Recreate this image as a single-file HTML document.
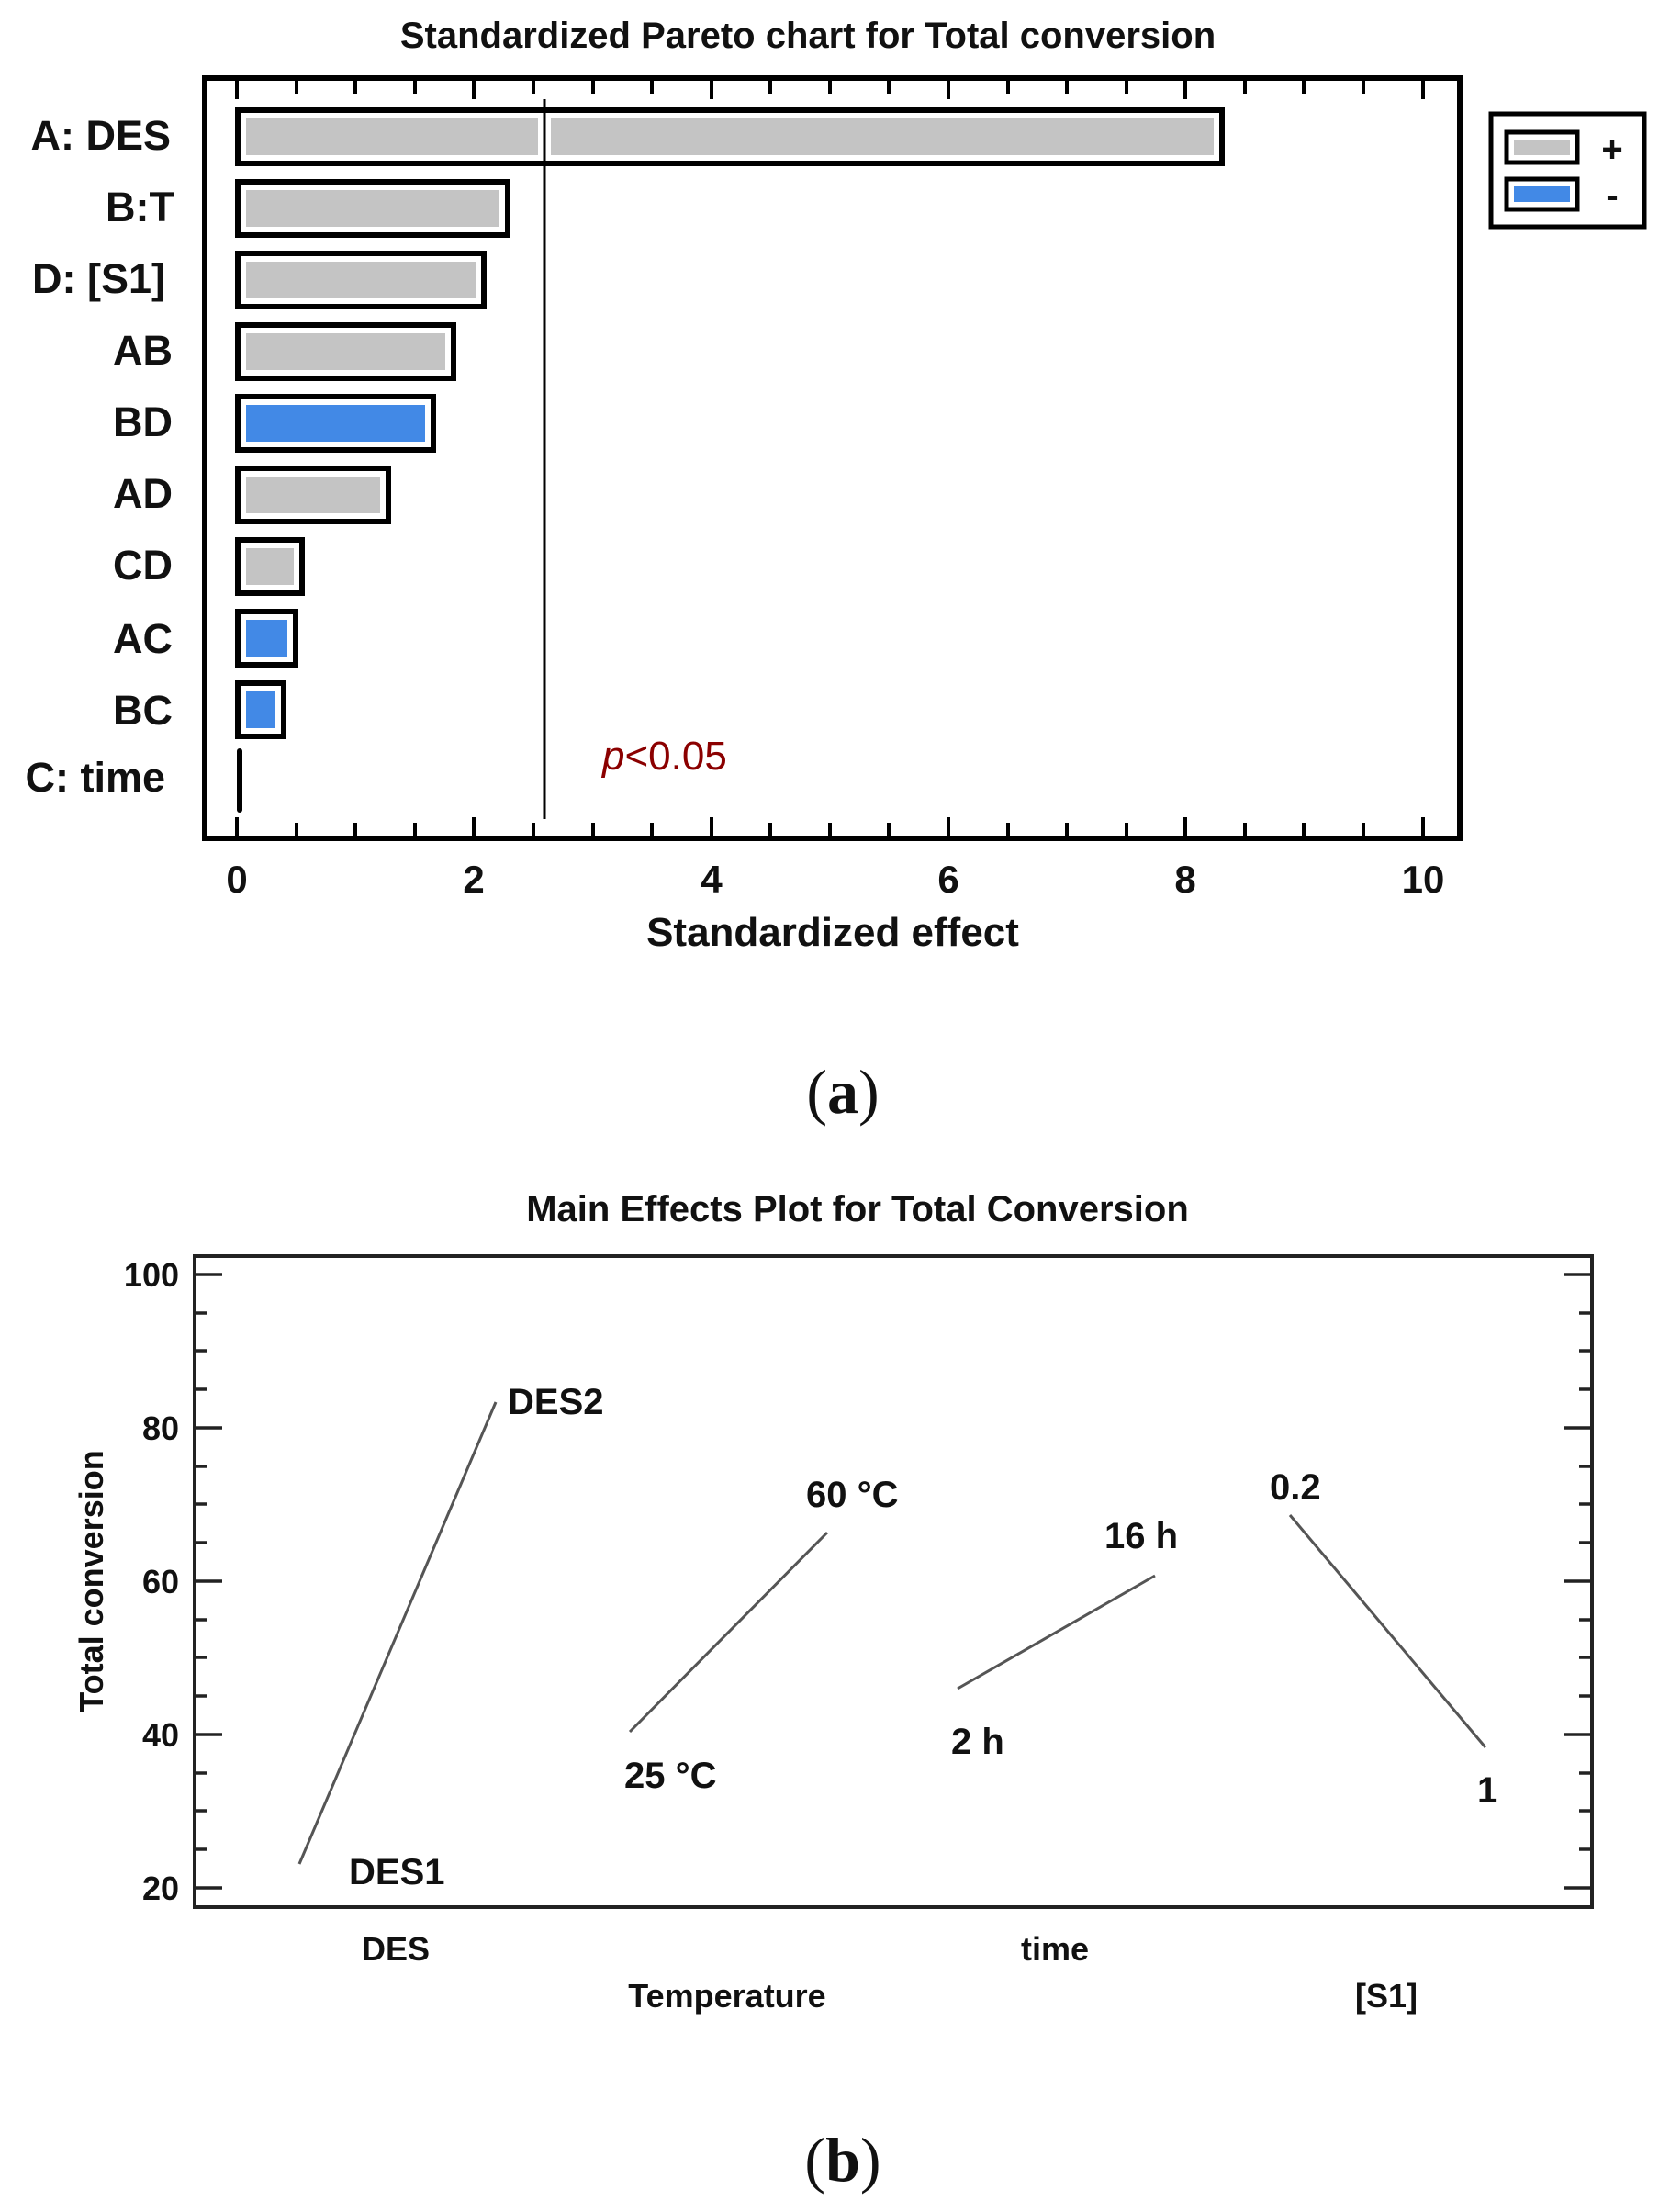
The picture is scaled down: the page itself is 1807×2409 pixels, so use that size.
<!DOCTYPE html>
<html><head><meta charset="utf-8"><style>
html,body{margin:0;padding:0;background:#fff}
svg{display:block}
text{font-family:"Liberation Sans",Arial,sans-serif;font-weight:bold;fill:#111}
</style></head><body>
<svg width="1807" height="2409" viewBox="0 0 1807 2409" xmlns="http://www.w3.org/2000/svg">
<text x="880" y="52" font-size="40" text-anchor="middle">Standardized Pareto chart for Total conversion</text>
<rect x="223" y="85" width="1367" height="828" fill="none" stroke="#000" stroke-width="6"/>
<g stroke="#000" stroke-width="4">
<line x1="258" y1="88" x2="258" y2="108"/><line x1="323" y1="88" x2="323" y2="102"/><line x1="387" y1="88" x2="387" y2="102"/><line x1="452" y1="88" x2="452" y2="102"/><line x1="516" y1="88" x2="516" y2="108"/><line x1="581" y1="88" x2="581" y2="102"/><line x1="646" y1="88" x2="646" y2="102"/><line x1="710" y1="88" x2="710" y2="102"/><line x1="775" y1="88" x2="775" y2="108"/><line x1="839" y1="88" x2="839" y2="102"/><line x1="904" y1="88" x2="904" y2="102"/><line x1="968" y1="88" x2="968" y2="102"/><line x1="1033" y1="88" x2="1033" y2="108"/><line x1="1098" y1="88" x2="1098" y2="102"/><line x1="1162" y1="88" x2="1162" y2="102"/><line x1="1227" y1="88" x2="1227" y2="102"/><line x1="1291" y1="88" x2="1291" y2="108"/><line x1="1356" y1="88" x2="1356" y2="102"/><line x1="1420" y1="88" x2="1420" y2="102"/><line x1="1485" y1="88" x2="1485" y2="102"/><line x1="1550" y1="88" x2="1550" y2="108"/>
<line x1="258" y1="910" x2="258" y2="890"/><line x1="323" y1="910" x2="323" y2="896"/><line x1="387" y1="910" x2="387" y2="896"/><line x1="452" y1="910" x2="452" y2="896"/><line x1="516" y1="910" x2="516" y2="890"/><line x1="581" y1="910" x2="581" y2="896"/><line x1="646" y1="910" x2="646" y2="896"/><line x1="710" y1="910" x2="710" y2="896"/><line x1="775" y1="910" x2="775" y2="890"/><line x1="839" y1="910" x2="839" y2="896"/><line x1="904" y1="910" x2="904" y2="896"/><line x1="968" y1="910" x2="968" y2="896"/><line x1="1033" y1="910" x2="1033" y2="890"/><line x1="1098" y1="910" x2="1098" y2="896"/><line x1="1162" y1="910" x2="1162" y2="896"/><line x1="1227" y1="910" x2="1227" y2="896"/><line x1="1291" y1="910" x2="1291" y2="890"/><line x1="1356" y1="910" x2="1356" y2="896"/><line x1="1420" y1="910" x2="1420" y2="896"/><line x1="1485" y1="910" x2="1485" y2="896"/><line x1="1550" y1="910" x2="1550" y2="890"/>
</g>
<g stroke="#000" stroke-width="6" fill="#fff">
<rect x="259" y="120" width="1072" height="58"/>
<rect x="259" y="198" width="294" height="58"/>
<rect x="259" y="276" width="268" height="58"/>
<rect x="259" y="354" width="235" height="58"/>
<rect x="259" y="432" width="213" height="58"/>
<rect x="259" y="510" width="164" height="58"/>
<rect x="259" y="588" width="70" height="58"/>
<rect x="259" y="666" width="63" height="58"/>
<rect x="259" y="744" width="50" height="58"/>
</g>
<g>
<rect x="268" y="129" width="1054" height="40" fill="#c4c4c4"/>
<rect x="586" y="126" width="14" height="46" fill="#fff"/>
<rect x="268" y="207" width="276" height="40" fill="#c4c4c4"/>
<rect x="268" y="285" width="250" height="40" fill="#c4c4c4"/>
<rect x="268" y="363" width="217" height="40" fill="#c4c4c4"/>
<rect x="268" y="441" width="195" height="40" fill="#4289e6"/>
<rect x="268" y="519" width="146" height="40" fill="#c4c4c4"/>
<rect x="268" y="597" width="52" height="40" fill="#c4c4c4"/>
<rect x="268" y="675" width="45" height="40" fill="#4289e6"/>
<rect x="268" y="753" width="32" height="40" fill="#4289e6"/>
</g>
<line x1="261" y1="818" x2="261" y2="882" stroke="#000" stroke-width="6" stroke-linecap="round"/>
<line x1="593" y1="108" x2="593" y2="892" stroke="#000" stroke-width="3"/>
<g font-size="45" text-anchor="end">
<text x="186" y="163">A: DES</text>
<text x="190" y="241">B:T</text>
<text x="180" y="319">D: [S1]</text>
<text x="188" y="397">AB</text>
<text x="188" y="475">BD</text>
<text x="188" y="553">AD</text>
<text x="188" y="631">CD</text>
<text x="188" y="711">AC</text>
<text x="188" y="789">BC</text>
<text x="180" y="862">C: time</text>
</g>
<text x="656" y="838" font-size="44" style="fill:#8b0000;font-weight:normal"><tspan font-style="italic">p</tspan>&lt;0.05</text>
<g font-size="42" text-anchor="middle">
<text x="258" y="972">0</text><text x="516" y="972">2</text><text x="775" y="972">4</text><text x="1033" y="972">6</text><text x="1291" y="972">8</text><text x="1550" y="972">10</text>
</g>
<text x="907" y="1030" font-size="44" text-anchor="middle">Standardized effect</text>
<rect x="1624" y="124" width="167" height="123" fill="#fff" stroke="#000" stroke-width="5"/>
<rect x="1641" y="144" width="77" height="33" fill="#fff" stroke="#000" stroke-width="5"/>
<rect x="1649" y="152" width="61" height="17" fill="#c4c4c4"/>
<rect x="1641" y="195" width="77" height="33" fill="#fff" stroke="#000" stroke-width="5"/>
<rect x="1649" y="203" width="61" height="17" fill="#4289e6"/>
<text x="1756" y="176" font-size="40" text-anchor="middle">+</text>
<text x="1756" y="226" font-size="40" text-anchor="middle">-</text>
<text x="918" y="1212" font-size="68" text-anchor="middle" style="font-family:'Liberation Serif',serif;font-weight:normal">(<tspan font-weight="bold">a</tspan>)</text>

<text x="934" y="1330" font-size="40" text-anchor="middle">Main Effects Plot for Total Conversion</text>
<rect x="212" y="1368" width="1522" height="709" fill="none" stroke="#222" stroke-width="4"/>
<g stroke="#222" stroke-width="3.5">
<line x1="212" y1="1388" x2="242" y2="1388"/><line x1="212" y1="1430" x2="226" y2="1430"/><line x1="212" y1="1471" x2="226" y2="1471"/><line x1="212" y1="1513" x2="226" y2="1513"/><line x1="212" y1="1555" x2="242" y2="1555"/><line x1="212" y1="1597" x2="226" y2="1597"/><line x1="212" y1="1638" x2="226" y2="1638"/><line x1="212" y1="1680" x2="226" y2="1680"/><line x1="212" y1="1722" x2="242" y2="1722"/><line x1="212" y1="1764" x2="226" y2="1764"/><line x1="212" y1="1805" x2="226" y2="1805"/><line x1="212" y1="1847" x2="226" y2="1847"/><line x1="212" y1="1889" x2="242" y2="1889"/><line x1="212" y1="1931" x2="226" y2="1931"/><line x1="212" y1="1972" x2="226" y2="1972"/><line x1="212" y1="2014" x2="226" y2="2014"/><line x1="212" y1="2056" x2="242" y2="2056"/>
<line x1="1734" y1="1388" x2="1704" y2="1388"/><line x1="1734" y1="1430" x2="1720" y2="1430"/><line x1="1734" y1="1471" x2="1720" y2="1471"/><line x1="1734" y1="1513" x2="1720" y2="1513"/><line x1="1734" y1="1555" x2="1704" y2="1555"/><line x1="1734" y1="1597" x2="1720" y2="1597"/><line x1="1734" y1="1638" x2="1720" y2="1638"/><line x1="1734" y1="1680" x2="1720" y2="1680"/><line x1="1734" y1="1722" x2="1704" y2="1722"/><line x1="1734" y1="1764" x2="1720" y2="1764"/><line x1="1734" y1="1805" x2="1720" y2="1805"/><line x1="1734" y1="1847" x2="1720" y2="1847"/><line x1="1734" y1="1889" x2="1704" y2="1889"/><line x1="1734" y1="1931" x2="1720" y2="1931"/><line x1="1734" y1="1972" x2="1720" y2="1972"/><line x1="1734" y1="2014" x2="1720" y2="2014"/><line x1="1734" y1="2056" x2="1704" y2="2056"/>
</g>
<g font-size="36" text-anchor="end">
<text x="195" y="1401">100</text><text x="195" y="1568">80</text><text x="195" y="1735">60</text><text x="195" y="1902">40</text><text x="195" y="2069">20</text>
</g>
<text transform="translate(112,1722) rotate(-90)" font-size="36" text-anchor="middle">Total conversion</text>
<g stroke="#555" stroke-width="3" fill="none">
<line x1="326" y1="2030" x2="540" y2="1527"/>
<line x1="686" y1="1886" x2="901" y2="1669"/>
<line x1="1043" y1="1839" x2="1258" y2="1716"/>
<line x1="1405" y1="1650" x2="1618" y2="1903"/>
</g>
<g font-size="40">
<text x="553" y="1540">DES2</text>
<text x="380" y="2052">DES1</text>
<text x="878" y="1641">60 °C</text>
<text x="680" y="1947">25 °C</text>
<text x="1203" y="1686">16 h</text>
<text x="1036" y="1910">2 h</text>
<text x="1383" y="1633">0.2</text>
<text x="1609" y="1963">1</text>
</g>
<g font-size="36" text-anchor="middle">
<text x="431" y="2135">DES</text>
<text x="1149" y="2135">time</text>
<text x="792" y="2186">Temperature</text>
<text x="1510" y="2186">[S1]</text>
</g>
<text x="918" y="2375" font-size="68" text-anchor="middle" style="font-family:'Liberation Serif',serif;font-weight:normal">(<tspan font-weight="bold">b</tspan>)</text>
</svg>
</body></html>
